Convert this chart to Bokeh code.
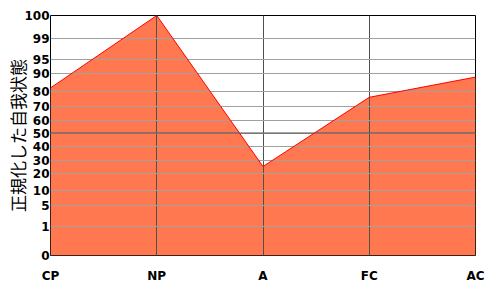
import numpy as np
from bokeh.plotting import figure
from bokeh.models import Range1d, FixedTicker, Span
from bokeh.embed import file_html
from bokeh.resources import INLINE

# ---- data ----
categories = ["CP", "NP", "A", "FC", "AC"]
scores = [82, 100, 25, 76, 88]          # normalized ego-state percentiles
tick_values = [0, 1, 5, 10, 20, 30, 40, 50, 60, 70, 80, 90, 95, 99, 100]
tick_labels = [str(t) for t in tick_values]

# ---- scale definition (non-linear percentile axis, layout units) ----
SCALE_POS = [0, 29, 50.5, 65, 82.5, 95.5, 109, 122.5, 135.5, 149.5, 164, 182, 196, 217, 240]

def to_pos(v):
    return np.interp(v, tick_values, SCALE_POS)

xs = list(range(len(categories)))
ys = [float(to_pos(v)) for v in scores]
tick_pos = [float(to_pos(v)) for v in tick_values]

p = figure(width=500, height=300, output_backend="svg", toolbar_location=None,
           x_range=Range1d(0, len(categories) - 1), y_range=Range1d(0, SCALE_POS[-1]),
           min_border_left=50, min_border_right=25, min_border_top=15, min_border_bottom=45)

area = p.varea(x=xs, y1=[0] * len(xs), y2=ys, fill_color="#FF7850", fill_alpha=1.0)
area.level = "image"
p.line(x=xs, y=ys, line_color="#FF0000", line_width=1)

p.outline_line_color = "black"
p.outline_line_width = 1
p.background_fill_color = "white"
p.border_fill_color = "white"

# grids
p.ygrid.ticker = FixedTicker(ticks=tick_pos)
p.ygrid.grid_line_color = "#A0A0A0"
p.ygrid.grid_line_width = 1
p.xgrid.ticker = FixedTicker(ticks=xs[1:-1])
p.xgrid.grid_line_color = "#505050"
p.xgrid.grid_line_width = 1
mid = Span(location=float(to_pos(50)), dimension="width", line_color="#505050",
           line_width=1, level="underlay")
p.add_layout(mid)

# y axis
p.yaxis.ticker = FixedTicker(ticks=tick_pos)
p.yaxis.major_label_overrides = {tp: lab for tp, lab in zip(tick_pos, tick_labels)}
p.yaxis.axis_line_color = None
p.yaxis.major_tick_line_color = None
p.yaxis.minor_tick_line_color = None
p.yaxis.major_tick_in = 0
p.yaxis.major_tick_out = 0
p.yaxis.major_label_standoff = 1
p.yaxis.major_label_text_font = "DejaVu Sans"
p.yaxis.major_label_text_font_style = "bold"
p.yaxis.major_label_text_font_size = "12px"
p.yaxis.major_label_text_color = "black"
p.yaxis.axis_label = "正規化した自我状態"
p.yaxis.axis_label_text_font = "Noto Sans CJK JP"
p.yaxis.axis_label_text_font_style = "normal"
p.yaxis.axis_label_text_font_size = "17px"
p.yaxis.axis_label_text_color = "black"
p.yaxis.axis_label_standoff = -9

# x axis
p.xaxis.ticker = FixedTicker(ticks=xs)
p.xaxis.major_label_overrides = {x: c for x, c in zip(xs, categories)}
p.xaxis.axis_line_color = None
p.xaxis.major_tick_line_color = None
p.xaxis.minor_tick_line_color = None
p.xaxis.major_tick_in = 0
p.xaxis.major_tick_out = 0
p.xaxis.major_label_standoff = 13
p.xaxis.major_label_text_font = "DejaVu Sans"
p.xaxis.major_label_text_font_style = "bold"
p.xaxis.major_label_text_font_size = "12px"
p.xaxis.major_label_text_color = "black"

open("out.html", "w").write(file_html(p, INLINE))
